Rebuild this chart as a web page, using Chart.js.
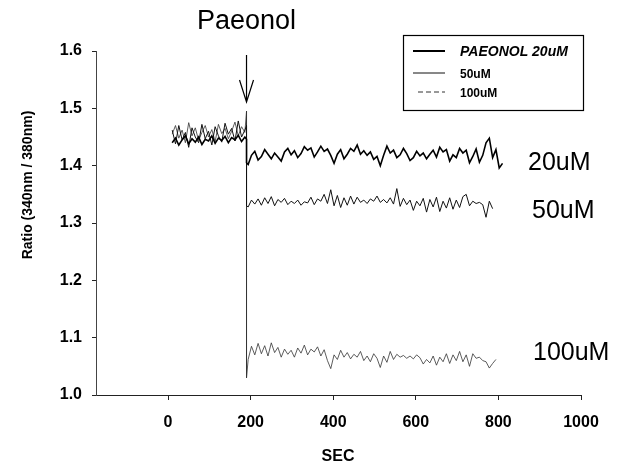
<!DOCTYPE html>
<html>
<head>
<meta charset="utf-8">
<script src="https://cdn.jsdelivr.net/npm/chart.js@4.4.1/dist/chart.umd.min.js"></script>
<style>
    html, body { margin: 0; padding: 0; background: #fff; }
    #wrap { width: 625px; height: 463px; }
</style>
</head>
<body>
<div id="wrap"><canvas id="ratioChart" width="625" height="463"></canvas></div>
<script>
// sample times (s); the two 190 entries are the paeonol addition
const times = [
    10, 18, 26, 34, 42, 50, 58, 66, 74, 82, 90, 98, 106, 114, 122, 130, 138, 146, 154, 162, 170, 178, 186,
    190, 190,
    194, 202, 210, 218, 226, 234, 242, 250, 258, 266,
    274, 282, 290, 298, 306, 314, 322, 330, 338, 346,
    354, 362, 370, 378, 386, 394, 402, 410, 418, 426,
    434, 442, 450, 458, 466, 474, 482, 490, 498, 506,
    514, 522, 530, 538, 546, 554, 562, 570, 578, 586,
    594, 602, 610, 618, 626, 634, 642, 650, 658, 666,
    674, 682, 690, 698, 706, 714, 722, 730, 738, 746,
    754, 762, 770, 778, 786, 794, 802, 810
];
const injectionTime = 190;

const ratio20 = [
    1.440, 1.448, 1.436, 1.445, 1.452, 1.438, 1.447, 1.441, 1.450, 1.437, 1.446, 1.443, 1.452, 1.439, 1.448, 1.444, 1.451, 1.440, 1.449, 1.445, 1.453, 1.442, 1.450,
    1.446, 1.405,
    1.402, 1.418, 1.425, 1.410, 1.416, 1.428, 1.420, 1.412, 1.422, 1.415,
    1.408, 1.424, 1.430, 1.419, 1.426, 1.414, 1.421, 1.433, 1.427, 1.431,
    1.415, 1.424, 1.434, 1.425, 1.429, 1.418, 1.404, 1.420, 1.428, 1.412,
    1.420, 1.430, 1.425, 1.436, 1.420, 1.426, 1.418, 1.424, 1.411, 1.416,
    1.400, 1.418, 1.434, 1.422, 1.427, 1.414, 1.419, 1.430, 1.421, 1.409,
    1.414, 1.425, 1.417, 1.422, 1.412, 1.420, 1.427, 1.415, 1.432, 1.424,
    1.428, 1.408, 1.419, 1.414, 1.430, 1.422, 1.427, 1.405, 1.416, 1.429,
    1.406, 1.418, 1.440, 1.448, 1.414, 1.428, 1.396, 1.404
];

const ratio50 = [
    1.462, 1.438, 1.470, 1.445, 1.458, 1.432, 1.466, 1.450, 1.440, 1.472, 1.447, 1.460, 1.436, 1.468, 1.452, 1.441, 1.474, 1.455, 1.465, 1.443, 1.478, 1.450, 1.462,
    1.470, 1.330,
    1.328, 1.340, 1.333, 1.342, 1.331, 1.344, 1.334, 1.346, 1.330, 1.341,
    1.336, 1.343, 1.332, 1.338, 1.334, 1.340, 1.331, 1.337, 1.335, 1.345,
    1.332, 1.342, 1.338, 1.350, 1.334, 1.358, 1.330, 1.348, 1.327, 1.344,
    1.331, 1.347, 1.333, 1.345, 1.336, 1.340, 1.334, 1.342, 1.338, 1.347,
    1.336, 1.341, 1.335, 1.344, 1.333, 1.360, 1.329, 1.343, 1.332, 1.340,
    1.322, 1.338, 1.330, 1.343, 1.319, 1.341, 1.328, 1.345, 1.320, 1.338,
    1.326, 1.344, 1.324, 1.340, 1.327, 1.346, 1.350, 1.330, 1.338, 1.334,
    1.336, 1.332, 1.310, 1.338, 1.325, null, null, null
];

const ratio100 = [
    1.455, 1.470, 1.448, 1.462, 1.440, 1.475, 1.452, 1.466, 1.444, 1.458, 1.470, 1.450, 1.463, 1.442, 1.472, 1.456, 1.465, 1.447, 1.460, 1.476, 1.452, 1.468, 1.458,
    1.495, 1.030,
    1.062, 1.085, 1.070, 1.090, 1.072, 1.086, 1.068, 1.091, 1.074, 1.083,
    1.066, 1.080, 1.071, 1.078, 1.066, 1.082, 1.073, 1.087, 1.070, 1.080,
    1.075, 1.084, 1.068, 1.079, 1.060, 1.046, 1.070, 1.062, 1.078, 1.066,
    1.074, 1.063, 1.071, 1.066, 1.076, 1.060, 1.068, 1.058, 1.072, 1.064,
    1.048, 1.068, 1.057, 1.076, 1.062, 1.071, 1.066, 1.069, 1.064, 1.068,
    1.063, 1.070, 1.065, 1.054, 1.062, 1.056, 1.068, 1.052, 1.066, 1.058,
    1.072, 1.055, 1.070, 1.060, 1.076, 1.058, 1.070, 1.050, 1.072, 1.064,
    1.066, 1.060, 1.058, 1.047, 1.055, 1.062, null, null
];

const seriesNames = ["PAEONOL 20uM", "50uM", "100uM"];
const traceLabels = ["20uM", "50uM", "100uM"];
const xTicks = [0, 200, 400, 600, 800, 1000];
const yTicks = [1.0, 1.1, 1.2, 1.3, 1.4, 1.5, 1.6];

const FONT = "'Liberation Sans', Arial, Helvetica, sans-serif";

function toPoints(values) {
    return times.map((t, i) => ({ x: t, y: values[i] }));
}

// titles, arrow, legend box and trace labels
const annotations = {
    id: "annotations",
    afterDatasetsDraw(chart) {
        const c = chart.ctx;
        const xs = chart.scales.x;
        const ds = chart.data.datasets;
        c.save();
        c.fillStyle = "#000";
        c.strokeStyle = "#000";

        c.font = "27px " + FONT;
        c.textAlign = "center";
        c.textBaseline = "alphabetic";
        const ax = xs.getPixelForValue(injectionTime);
        c.fillText("Paeonol", ax, 29);

        c.lineWidth = 1.2;
        c.beginPath();
        c.moveTo(ax, 55);
        c.lineTo(ax, 102);
        c.moveTo(ax - 7, 80);
        c.lineTo(ax, 102);
        c.lineTo(ax + 7, 80);
        c.stroke();

        c.font = "bold 16px " + FONT;
        c.fillText("SEC", 338, 461);

        c.save();
        c.translate(28, 185);
        c.rotate(-Math.PI / 2);
        c.font = "bold 14px " + FONT;
        c.textBaseline = "middle";
        c.fillText("Ratio (340nm / 380nm)", 0, 0);
        c.restore();

        c.textAlign = "left";
        c.font = "25px " + FONT;
        c.fillText(traceLabels[0], 528, 170);
        c.fillText(traceLabels[1], 532, 218);
        c.fillText(traceLabels[2], 533, 360);

        // legend box
        c.lineWidth = 1.2;
        c.strokeRect(403.5, 35.5, 180, 75);
        const rows = [51, 73, 92];
        const starts = [413, 413, 418];
        const dashes = [[], [], [5, 3]];
        ds.forEach((d, i) => {
            c.save();
            c.strokeStyle = d.borderColor;
            c.lineWidth = i === 0 ? 2 : 1;
            c.setLineDash(dashes[i]);
            c.beginPath();
            c.moveTo(starts[i], rows[i]);
            c.lineTo(445, rows[i]);
            c.stroke();
            c.restore();
        });
        c.font = "italic bold 14px " + FONT;
        c.fillText(seriesNames[0], 460, 56);
        c.font = "bold 12px " + FONT;
        c.fillText(seriesNames[1], 460, 78);
        c.fillText(seriesNames[2], 460, 97);
        c.restore();
    }
};

new Chart(document.getElementById("ratioChart").getContext("2d"), {
    type: "line",
    data: {
        datasets: [
            { label: seriesNames[0], data: toPoints(ratio20), borderColor: "#000", borderWidth: 1.6 },
            { label: seriesNames[1], data: toPoints(ratio50), borderColor: "#111", borderWidth: 1 },
            { label: seriesNames[2], data: toPoints(ratio100), borderColor: "#333", borderWidth: 0.8 }
        ]
    },
    options: {
        responsive: false,
        animation: false,
        layout: { padding: { top: 51, right: 44, left: 0, bottom: 0 } },
        elements: { point: { radius: 0 }, line: { tension: 0 } },
        plugins: { legend: { display: false }, tooltip: { enabled: false } },
        scales: {
            x: {
                type: "linear",
                min: -174.5,
                max: 1000,
                afterFit: s => { s.height = 68; },
                afterBuildTicks: s => { s.ticks = xTicks.map(v => ({ value: v })); },
                grid: { display: true, drawOnChartArea: false, tickLength: 5, color: "#222" },
                border: { display: true, color: "#222", width: 1 },
                ticks: {
                    color: "#000", padding: 13,
                    font: { family: FONT, size: 16, weight: "bold" },
                    callback: v => String(v)
                }
            },
            y: {
                min: 1.0,
                max: 1.6,
                afterFit: s => { s.width = 96; },
                afterBuildTicks: s => { s.ticks = yTicks.map(v => ({ value: v })); },
                grid: { display: true, drawOnChartArea: false, tickLength: 4, color: "#222" },
                border: { display: true, color: "#444", width: 1 },
                ticks: {
                    color: "#000", padding: 10,
                    font: { family: FONT, size: 16, weight: "bold" },
                    callback: v => Number(v).toFixed(1)
                }
            }
        }
    },
    plugins: [annotations]
});
</script>
</body>
</html>
